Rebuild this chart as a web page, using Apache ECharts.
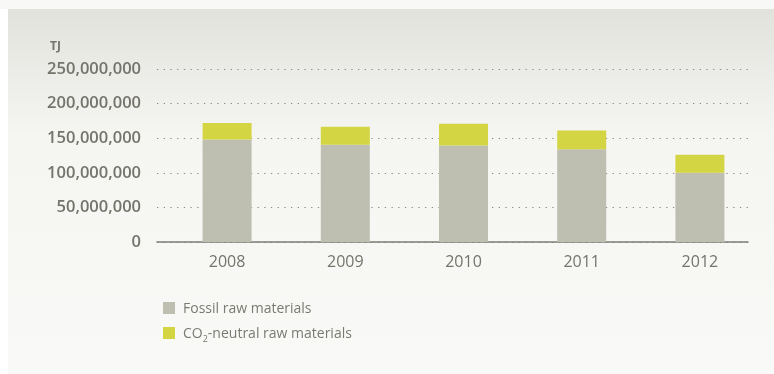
<!DOCTYPE html>
<html>
<head>
<meta charset="utf-8">
<style>
  html, body { margin: 0; padding: 0; background: #ffffff; }
  #chart { width: 774px; height: 374px; }
</style>
<script src="https://cdn.jsdelivr.net/npm/echarts@6/dist/echarts.min.js"></script>
</head>
<body>
<div id="chart"></div>
<script>
  // data (TJ)
  var years = ['2008', '2009', '2010', '2011', '2012']
  var fossil = [148000000, 140500000, 139500000, 134000000, 100000000]
  var neutral = [24000000, 26000000, 31500000, 27000000, 26000000]
  var yTicks = [0, 50000000, 100000000, 150000000, 200000000, 250000000]

  var textGrey = '#74746c'
  var yMin = yTicks[0]
  var yMax = yTicks[yTicks.length - 1]
  var yStep = yTicks[1] - yTicks[0]

  var myChart = echarts.init(document.getElementById('chart'))
  var option = {
    backgroundColor: '#ffffff',
    animation: false,
    graphic: [
      {
        type: 'rect',
        silent: true,
        z: -10,
        shape: { x: 0, y: 0, width: 774, height: 9 },
        style: { fill: '#f8f8f6' }
      },
      {
        type: 'rect',
        silent: true,
        z: -10,
        shape: { x: 8, y: 9, width: 766, height: 365 },
        style: {
          fill: new echarts.graphic.LinearGradient(0, 0, 0, 1, [
            { offset: 0, color: '#e2e2dd' },
            { offset: 0.35, color: '#f5f5f2' },
            { offset: 1, color: '#f9f9f7' }
          ])
        }
      }
    ],
    title: {
      text: 'TJ',
      left: 45,
      top: 36,
      textStyle: { fontFamily: 'Open Sans', fontSize: 12, fontWeight: 'bold', color: textGrey }
    },
    legend: {
      orient: 'vertical',
      left: 158,
      top: 297,
      itemWidth: 12,
      itemHeight: 12,
      itemGap: 11,
      icon: 'rect',
      selectedMode: false,
      data: ['Fossil raw materials', 'CO2-neutral raw materials'],
      formatter: function (name) {
        if (name === 'CO2-neutral raw materials') {
          return '{a|CO}{sub|2}{a|-neutral raw materials}'
        }
        return '{a|' + name + '}'
      },
      textStyle: {
        fontFamily: 'Open Sans',
        fontSize: 14,
        color: '#7a7a72',
        padding: [0, 0, 0, 3],
        rich: {
          a: { fontFamily: 'Open Sans', fontSize: 14, color: '#7a7a72', lineHeight: 16, verticalAlign: 'bottom' },
          sub: { fontFamily: 'Open Sans', fontSize: 9, color: '#7a7a72', lineHeight: 16, verticalAlign: 'bottom', padding: [0, 0, -3, 0] }
        }
      }
    },
    // grid 0: axis line, y labels and dotted lines; grid 1: the bars (categories sit a bit to the right)
    grid: [
      { left: 157, right: 26, top: 69, bottom: 132 },
      { left: 168, right: 15, top: 69, bottom: 132 }
    ],
    xAxis: [
      {
        type: 'category',
        gridIndex: 0,
        data: years,
        axisTick: { show: false },
        axisLabel: { show: false },
        axisLine: { lineStyle: { color: '#7d7d75', width: 1.5 } }
      },
      {
        type: 'category',
        gridIndex: 1,
        data: years,
        axisTick: { show: false },
        axisLine: { show: false },
        axisLabel: {
          margin: 12,
          fontFamily: 'Open Sans',
          fontSize: 16,
          color: textGrey
        }
      }
    ],
    yAxis: [
      {
        type: 'value',
        gridIndex: 0,
        min: yMin,
        max: yMax,
        interval: yStep,
        axisLine: { show: false },
        axisTick: { show: false },
        axisLabel: {
          margin: 16,
          fontFamily: 'Open Sans',
          fontSize: 16.5,
          fontWeight: 600,
          color: textGrey,
          formatter: function (v) {
            return v.toString().replace(/\B(?=(\d{3})+(?!\d))/g, ',')
          }
        },
        splitLine: {
          lineStyle: { type: [1.3, 5.4], color: '#8a8a84', width: 1 }
        }
      },
      {
        type: 'value',
        gridIndex: 1,
        min: yMin,
        max: yMax,
        interval: yStep,
        show: false,
        splitLine: { show: false }
      }
    ],
    series: [
      {
        name: 'Fossil raw materials',
        type: 'bar',
        xAxisIndex: 1,
        yAxisIndex: 1,
        stack: 'total',
        data: fossil,
        barWidth: 49,
        itemStyle: { color: '#bebfb1' }
      },
      {
        name: 'CO2-neutral raw materials',
        type: 'bar',
        xAxisIndex: 1,
        yAxisIndex: 1,
        stack: 'total',
        data: neutral,
        barWidth: 49,
        itemStyle: { color: '#d4d543' }
      }
    ]
  }
  myChart.setOption(option)
</script>
</body>
</html>
